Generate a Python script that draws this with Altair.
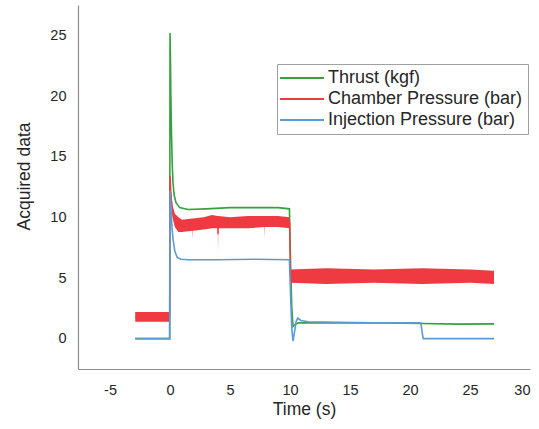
import altair as alt
import pandas as pd

# ---- series names / colours ----
series_names = ["Thrust (kgf)", "Chamber Pressure (bar)", "Injection Pressure (bar)"]
series_colors = ["#35a03c", "#ee3a40", "#5b9bd5"]

# ---- Thrust (kgf) ----
thrust_t = [-2.9, -0.03, 0.0, 0.03, 0.07, 0.12, 0.18, 0.25, 0.35, 0.5, 0.8, 1.5, 3.0,
            5.0, 7.0, 9.0, 9.95, 10.05, 10.15, 10.25, 10.4, 10.7, 12.0, 15.0, 18.0,
            21.0, 24.0, 27.0]
thrust_v = [0.0, 0.0, 25.2, 23.5, 20.0, 17.0, 14.5, 12.8, 11.8, 11.2, 10.8, 10.65, 10.7,
            10.8, 10.8, 10.8, 10.7, 6.0, 2.5, 1.0, 1.15, 1.3, 1.3, 1.3, 1.3,
            1.25, 1.2, 1.22]

# ---- Chamber Pressure (bar): noisy band (low / high envelope) ----
chamber_t = [-2.9, -0.02, 0.0, 0.08, 0.2, 0.4, 0.7, 1.0, 1.88, 1.9, 1.92, 2.8, 3.5,
             3.98, 4.0, 4.02, 5.0, 6.5, 7.88, 7.9, 7.92, 9.0, 9.97, 10.0, 10.03,
             13.0, 17.0, 21.0, 25.0, 27.0]
chamber_lo = [1.4, 1.4, 13.4, 11.4, 10.0, 9.2, 8.8, 8.8, 8.9, 8.2, 8.9, 9.0, 9.1,
              9.1, 7.1, 9.1, 9.1, 9.1, 9.2, 8.3, 9.2, 9.2, 9.1, 7.5, 4.6,
              4.5, 4.6, 4.5, 4.6, 4.5]
chamber_hi = [2.2, 2.2, 13.4, 12.3, 11.0, 10.3, 10.0, 9.8, 9.9, 9.9, 9.9, 10.0, 10.2,
              10.1, 10.1, 10.1, 10.0, 10.1, 10.1, 10.1, 10.1, 10.1, 10.0, 7.5, 5.7,
              5.8, 5.7, 5.8, 5.7, 5.6]

# ---- Injection Pressure (bar) ----
inj_t = [-2.9, -0.03, 0.0, 0.04, 0.1, 0.18, 0.25, 0.4, 0.6, 0.9, 1.5, 4.0, 7.0, 9.95,
         10.05, 10.15, 10.25, 10.35, 10.5, 10.65, 10.9, 11.5, 14.0, 17.0, 20.9, 21.0,
         21.1, 24.0, 27.0]
inj_v = [0.0, 0.0, 12.2, 11.6, 10.2, 9.0, 8.2, 7.2, 6.7, 6.55, 6.5, 6.5, 6.55, 6.5,
         3.5, 0.8, -0.2, 0.4, 1.4, 1.7, 1.5, 1.4, 1.35, 1.3, 1.3, 0.6,
         0.0, 0.0, 0.0]

# ---- axis ticks ----
x_ticks = [-5, 0, 5, 10, 15, 20, 25, 30]
y_ticks = [0, 5, 10, 15, 20, 25]

thrust_df = pd.DataFrame({"t": thrust_t, "v": thrust_v, "series": series_names[0]})
chamber_df = pd.DataFrame({"t": chamber_t, "lo": chamber_lo, "hi": chamber_hi,
                           "series": series_names[1]})
chamber_df["v"] = (chamber_df["lo"] + chamber_df["hi"]) / 2
inj_df = pd.DataFrame({"t": inj_t, "v": inj_v, "series": series_names[2]})

FONT = "Liberation Sans"
TXT = "#262626"

x_enc = alt.X(
    "t:Q",
    scale=alt.Scale(domain=[-7.67, 30], nice=False, zero=False),
    axis=alt.Axis(
        values=x_ticks, title="Time (s)", grid=False, ticks=False, tickSize=0,
        labelPadding=14, labelFontSize=14.5, labelFont=FONT, labelColor=TXT,
        labelExpr="datum.value < 0 ? '-' + format(-datum.value, 'd') : datum.label",
        titleFontSize=17.5, titleFont=FONT, titleColor=TXT, titleFontWeight="normal",
        titleX=226, titleY=40, titleBaseline="middle",
        domainColor="#8c8c8c", domainWidth=1.2,
    ),
)

y_axis = alt.Axis(
    values=y_ticks, title="Acquired data", grid=False, ticks=False, tickSize=0,
    labelPadding=12, labelFontSize=14.5, labelFont=FONT, labelColor=TXT,
    titleFontSize=17.5, titleFont=FONT, titleColor=TXT, titleFontWeight="normal",
    titleX=-54, titleY=171, titleBaseline="middle", titleAlign="center", titleAngle=270,
    domainColor="#8c8c8c", domainWidth=1.2,
)
y_scale = alt.Scale(domain=[-2.5, 27.5], nice=False, zero=False)

legend = alt.Legend(
    title=None, orient="none", legendX=199, legendY=59,
    symbolType="M-4,0H4", symbolSize=121, symbolStrokeWidth=2, symbolOffset=11,
    labelFontSize=18, labelFont=FONT, labelColor=TXT, labelOffset=17, labelLimit=0,
    fillColor="white", strokeColor="#a0a0a0", padding=5, rowPadding=3,
)
color_enc = alt.Color("series:N",
                      scale=alt.Scale(domain=series_names, range=series_colors),
                      legend=legend)

thrust_line = alt.Chart(thrust_df).mark_line(strokeWidth=1.6).encode(
    x=x_enc, y=alt.Y("v:Q", scale=y_scale, axis=y_axis), color=color_enc)

chamber_band = alt.Chart(chamber_df).mark_area(color=series_colors[1], opacity=1).encode(
    x=x_enc, y=alt.Y("lo:Q", scale=y_scale, axis=y_axis), y2="hi:Q")

chamber_line = alt.Chart(chamber_df).mark_line(strokeWidth=1.4).encode(
    x=x_enc, y=alt.Y("v:Q", scale=y_scale, axis=y_axis), color=color_enc)

inj_line = alt.Chart(inj_df).mark_line(strokeWidth=1.6).encode(
    x=x_enc, y=alt.Y("v:Q", scale=y_scale, axis=y_axis), color=color_enc)

chart = alt.layer(thrust_line, chamber_band, chamber_line, inj_line).properties(
    width=452, height=364,
    autosize=alt.AutoSizeParams(type="none"),
    padding={"left": 78, "top": 5, "right": 9, "bottom": 60},
    background="white",
).configure_view(stroke=None)

chart.save("out.html", embed_options={"renderer": "svg", "actions": False})
